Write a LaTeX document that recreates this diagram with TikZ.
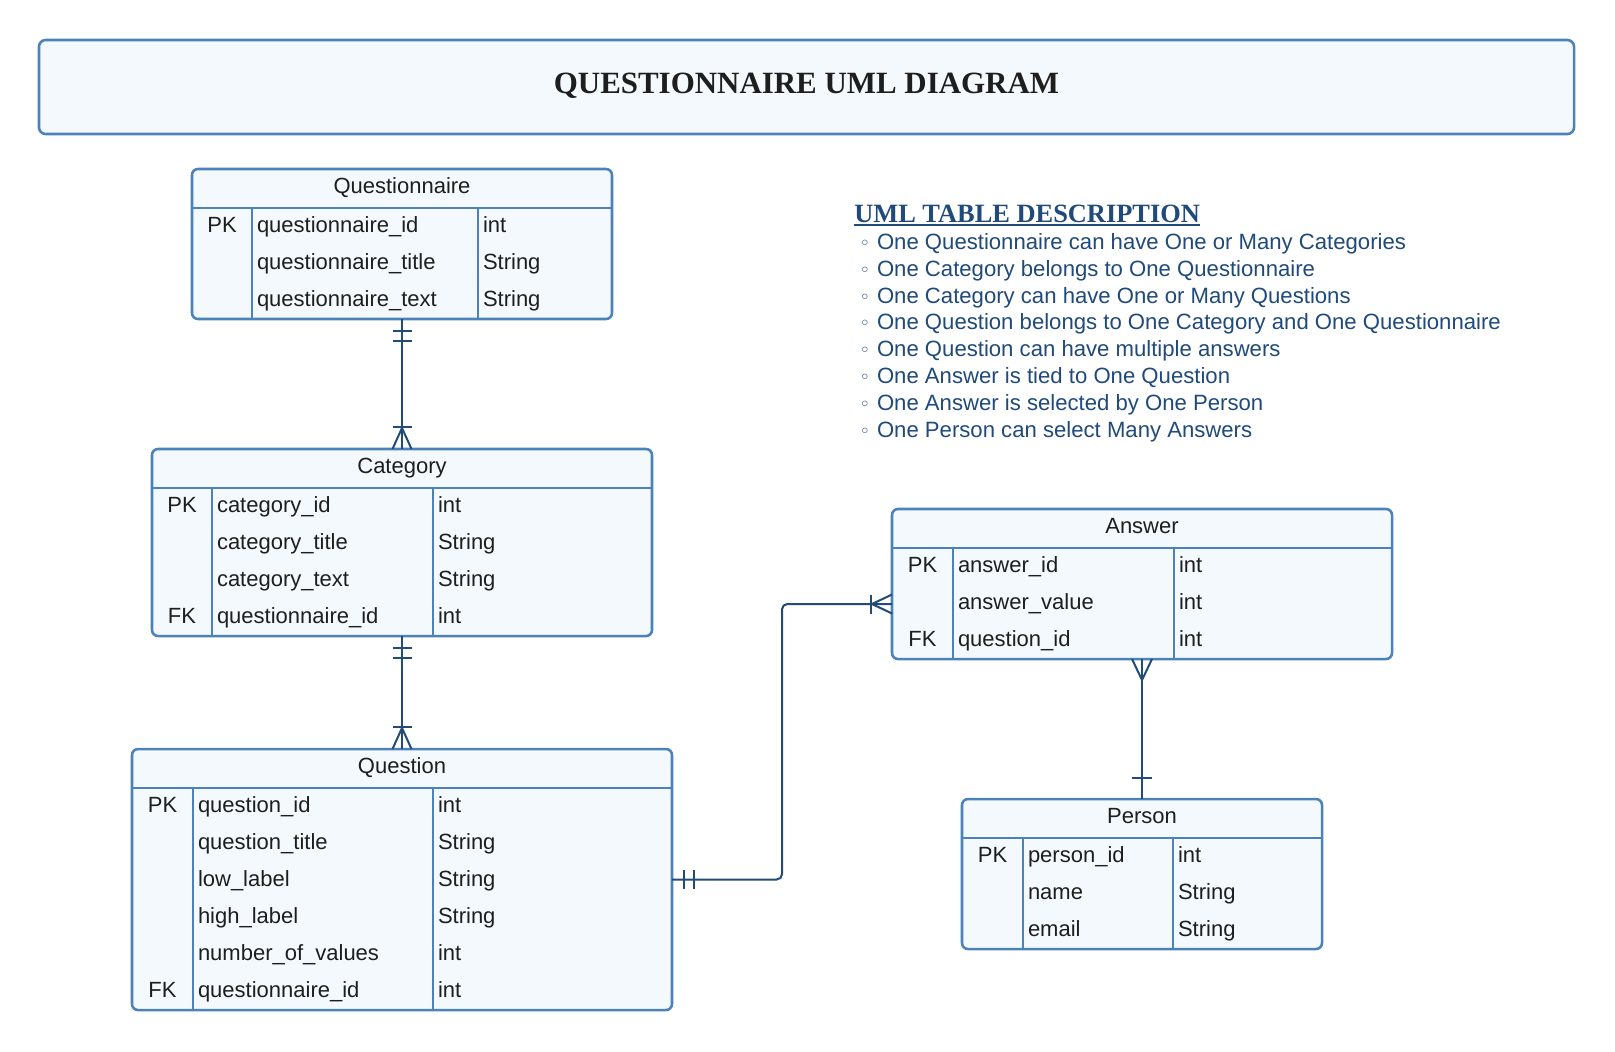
\documentclass[tikz,border=0pt]{standalone}
\usepackage{fontspec}
\setmainfont{Liberation Sans}
\newfontfamily\titlefont{Liberation Serif}
\newfontfamily\symfont{DejaVu Sans}
\usetikzlibrary{fit,calc}
\definecolor{tblborder}{HTML}{4A82B9}
\definecolor{tblfill}{HTML}{F4F9FE}
\definecolor{connc}{HTML}{234B77}
\definecolor{desccol}{HTML}{1F4A7A}
\definecolor{txt}{HTML}{1E1E1E}
\tikzset{
  tblbox/.style={draw=tblborder, fill=tblfill, line width=1.9pt, rounded corners=4.5pt, inner sep=0pt, outer sep=0pt},
  tblline/.style={draw=tblborder, line width=1.9pt},
  cell/.style={font=\fontsize{16.5}{20}\selectfont, text=txt, inner sep=0pt, outer sep=0pt},
  conn/.style={draw=connc, line width=1.5pt},
  desc/.style={font=\fontsize{16.6}{20}\selectfont, text=desccol, inner sep=0pt, outer sep=0pt},
}
\newcommand\ertable[9]{%
  \pgfmathsetmacro\erhb{#3+39}%
  \pgfmathsetmacro\erbt{#3+39+37*#7}%
  \node[tblbox, fit={(#2,#3) (#6,\erbt)}] (#1) {};
  \draw[tblline] (#2,\erhb) -- (#6,\erhb);
  \draw[tblline] (#4,\erhb) -- (#4,\erbt);
  \draw[tblline] (#5,\erhb) -- (#5,\erbt);
  \node[cell, anchor=base] (#1-title) at ({(#2+#6)/2},{#3+24.5}) {#8};
  \foreach \ek/\en/\et [count=\ei] in {#9} {
    \node[cell, anchor=base] (#1-k\ei) at ({(#2+#4)/2},{\erhb+24+37*(\ei-1)}) {\ek};
    \node[cell, anchor=base west] (#1-n\ei) at ({#4+5},{\erhb+24+37*(\ei-1)}) {\en};
    \node[cell, anchor=base west] (#1-t\ei) at ({#5+5},{\erhb+24+37*(\ei-1)}) {\et};
  }
}
\begin{document}
\begin{tikzpicture}[x=0.75pt,y=-0.75pt]
\fill[white] (0,0) rectangle (1615,1051);
\useasboundingbox (0,0) rectangle (1615,1051);

% title
\node[tblbox, rounded corners=5pt, fit={(39,40) (1574,134)}] (titlebox) {};
\node[font=\titlefont\bfseries\fontsize{23.2}{28}\selectfont, text=txt, inner sep=0pt, anchor=base] (title) at (806.5,93.5) {QUESTIONNAIRE UML DIAGRAM};

% tables
\ertable{questionnaire}{192}{169}{252}{478}{612}{3}{Questionnaire}{PK/questionnaire\_id/int, {}/questionnaire\_title/String, {}/questionnaire\_text/String}
\ertable{category}{152}{449}{212}{433}{652}{4}{Category}{PK/category\_id/int, {}/category\_title/String, {}/category\_text/String, FK/questionnaire\_id/int}
\ertable{question}{132}{749}{193}{433}{672}{6}{Question}{PK/question\_id/int, {}/question\_title/String, {}/low\_label/String, {}/high\_label/String, {}/number\_of\_values/int, FK/questionnaire\_id/int}
\ertable{answer}{892}{509}{953}{1174}{1392}{3}{Answer}{PK/answer\_id/int, {}/answer\_value/int, FK/question\_id/int}
\ertable{person}{962}{799}{1023}{1173}{1322}{3}{Person}{PK/person\_id/int, {}/name/String, {}/email/String}

% description
\node[font=\titlefont\bfseries\fontsize{19.8}{24}\selectfont, text=desccol, inner sep=0pt, anchor=base west] (deschead) at (854,222.5) {UML TABLE DESCRIPTION};
\draw[desccol, line width=1.4pt] ($(deschead.base west)+(0,2.5)$) -- ($(deschead.base east)+(0,2.5)$);
\foreach \dtext [count=\di] in {
  One Questionnaire can have One or Many Categories,
  One Category belongs to One Questionnaire,
  One Category can have One or Many Questions,
  One Question belongs to One Category and One Questionnaire,
  One Question can have multiple answers,
  One Answer is tied to One Question,
  One Answer is selected by One Person,
  One Person can select Many Answers} {
  \node[desc, anchor=base] (bul\di) at (865,{249.5+26.8*(\di-1)}) {\symfont\fontsize{13.5}{14}\selectfont ◦};
  \node[desc, anchor=base west] (desc\di) at (877,{249.5+26.8*(\di-1)}) {\dtext};
}

% Questionnaire -> Category
\draw[conn] (questionnaire.south) -- (category.north);
\draw[conn] ($(questionnaire.south)+(-9.5,12)$) -- ++(19,0);
\draw[conn] ($(questionnaire.south)+(-9.5,22)$) -- ++(19,0);
\draw[conn] ($(category.north)+(-9.5,-22)$) -- ++(19,0);
\draw[conn] ($(category.north)+(-9.5,0)$) -- ($(category.north)+(0,-21)$) -- ($(category.north)+(9.5,0)$);

% Category -> Question
\draw[conn] (category.south) -- (question.north);
\draw[conn] ($(category.south)+(-9.5,12)$) -- ++(19,0);
\draw[conn] ($(category.south)+(-9.5,22)$) -- ++(19,0);
\draw[conn] ($(question.north)+(-9.5,-22)$) -- ++(19,0);
\draw[conn] ($(question.north)+(-9.5,0)$) -- ($(question.north)+(0,-21)$) -- ($(question.north)+(9.5,0)$);

% Question -> Answer
\coordinate (qa) at (782,604);
\coordinate (aw) at (qa -| answer.west);
\draw[conn, rounded corners=4pt] (question.east) -| (qa) -- (aw);
\draw[conn] ($(question.east)+(12,-9.5)$) -- ++(0,19);
\draw[conn] ($(question.east)+(22,-9.5)$) -- ++(0,19);
\draw[conn] ($(aw)+(-21,-9.5)$) -- ++(0,19);
\draw[conn] ($(aw)+(0,-9.5)$) -- ($(aw)+(-20,0)$) -- ($(aw)+(0,9.5)$);

% Answer -> Person
\draw[conn] (answer.south) -- (person.north);
\draw[conn] ($(answer.south)+(-10,0)$) -- ($(answer.south)+(0,21)$) -- ($(answer.south)+(10,0)$);
\draw[conn] ($(person.north)+(-10,-21)$) -- ++(20,0);
\end{tikzpicture}
\end{document}
